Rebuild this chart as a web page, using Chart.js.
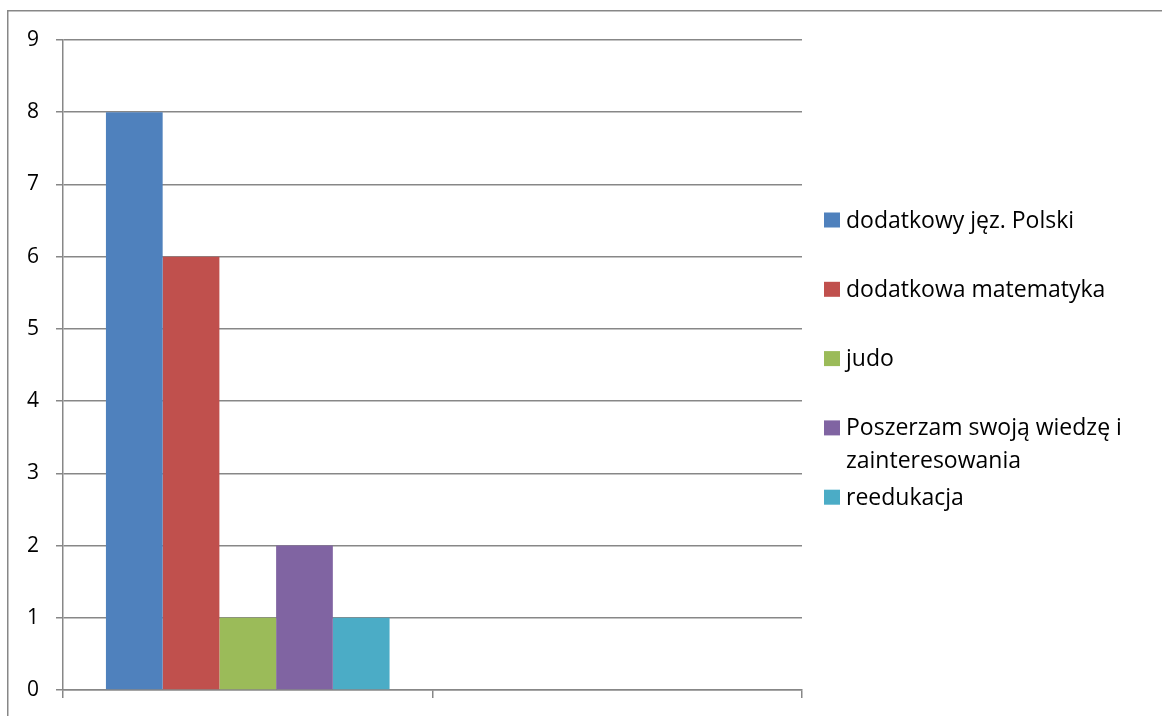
<!DOCTYPE html>
<html>
<head>
<meta charset="utf-8">
<script src="https://cdn.jsdelivr.net/npm/chart.js@4.4.1/dist/chart.umd.min.js"></script>
<style>
  html, body { margin: 0; padding: 0; background: #ffffff; }
  #wrap { position: relative; width: 1162px; height: 716px; }
</style>
</head>
<body>
<div id="wrap"><canvas id="c" width="1162" height="716"></canvas></div>
<script>
// ---- data ----
const categories = ['', ''];
const seriesNames = [
  'dodatkowy jęz. Polski',
  'dodatkowa matematyka',
  'judo',
  'Poszerzam swoją wiedzę i zainteresowania',
  'reedukacja'
];
const seriesValues = [
  [8, null],
  [6, null],
  [1, null],
  [2, null],
  [1, null]
];
const seriesColors = ['#4F81BD', '#C0504D', '#9BBB59', '#8064A2', '#4BACC6'];
const yTicks = [0, 1, 2, 3, 4, 5, 6, 7, 8, 9];

const FONT = '"Open Sans", "Noto Sans", "Liberation Sans", sans-serif';
const GRID = '#878787';

const frame = {
  id: 'frame',
  beforeDraw(chart) {
    const ctx = chart.ctx;
    ctx.save();
    ctx.strokeStyle = GRID;
    ctx.lineWidth = 1.5;
    ctx.beginPath();
    ctx.moveTo(7.75, 716);
    ctx.lineTo(7.75, 10.75);
    ctx.lineTo(1162, 10.75);
    ctx.stroke();
    ctx.restore();
  }
};

const legendPlugin = {
  id: 'customLegend',
  afterDraw(chart) {
    const ctx = chart.ctx;
    ctx.save();
    ctx.font = '23px ' + FONT;
    ctx.textBaseline = 'middle';
    ctx.fillStyle = '#000000';
    const boxX = 824, box = 15, textX = 846, maxW = 300;
    const y0 = 220, step = 69.3, lineH = 33;
    chart.data.datasets.forEach((ds, i) => {
      const cy = y0 + i * step;
      ctx.fillStyle = ds.backgroundColor;
      ctx.fillRect(boxX, cy - box / 2, box + 1, box);
      ctx.fillStyle = '#000000';
      const words = ds.label.split(' ');
      const lines = [];
      let cur = '';
      words.forEach(w => {
        const t = cur ? cur + ' ' + w : w;
        if (ctx.measureText(t).width > maxW && cur) { lines.push(cur); cur = w; }
        else cur = t;
      });
      if (cur) lines.push(cur);
      lines.forEach((l, k) => ctx.fillText(l, textX, cy + 1 + k * lineH));
    });
    ctx.restore();
  }
};

new Chart(document.getElementById('c'), {
  type: 'bar',
  data: {
    labels: categories,
    datasets: seriesNames.map((name, i) => ({
      label: name,
      data: seriesValues[i],
      backgroundColor: seriesColors[i],
      borderWidth: 0,
      categoryPercentage: 0.7676,
      barPercentage: 1.0
    }))
  },
  options: {
    responsive: false,
    animation: false,
    devicePixelRatio: 1,
    layout: { padding: { left: 0, top: 40, right: 360, bottom: 0 } },
    plugins: { legend: { display: false }, tooltip: { enabled: false } },
    scales: {
      x: {
        offset: true,
        grid: { offset: true, drawOnChartArea: false, drawTicks: true, tickLength: 8, color: GRID, lineWidth: 1.5 },
        border: { display: true, color: GRID, width: 1.5 },
        ticks: { display: false },
        afterFit(scale) { scale.height = 26; scale.paddingLeft = 0; scale.paddingRight = 0; }
      },
      y: {
        min: 0, max: 9,
        afterBuildTicks(scale) { scale.ticks = yTicks.map(v => ({ value: v })); },
        grid: { color: GRID, lineWidth: 1.5, tickLength: 7, drawTicks: true },
        border: { display: true, color: GRID, width: 1.5 },
        ticks: { color: '#000000', padding: 17, font: { size: 21, family: FONT } },
        afterFit(scale) { scale.width = 63; scale.paddingTop = 0; scale.paddingBottom = 0; }
      }
    }
  },
  plugins: [frame, legendPlugin]
});
</script>
</body>
</html>
